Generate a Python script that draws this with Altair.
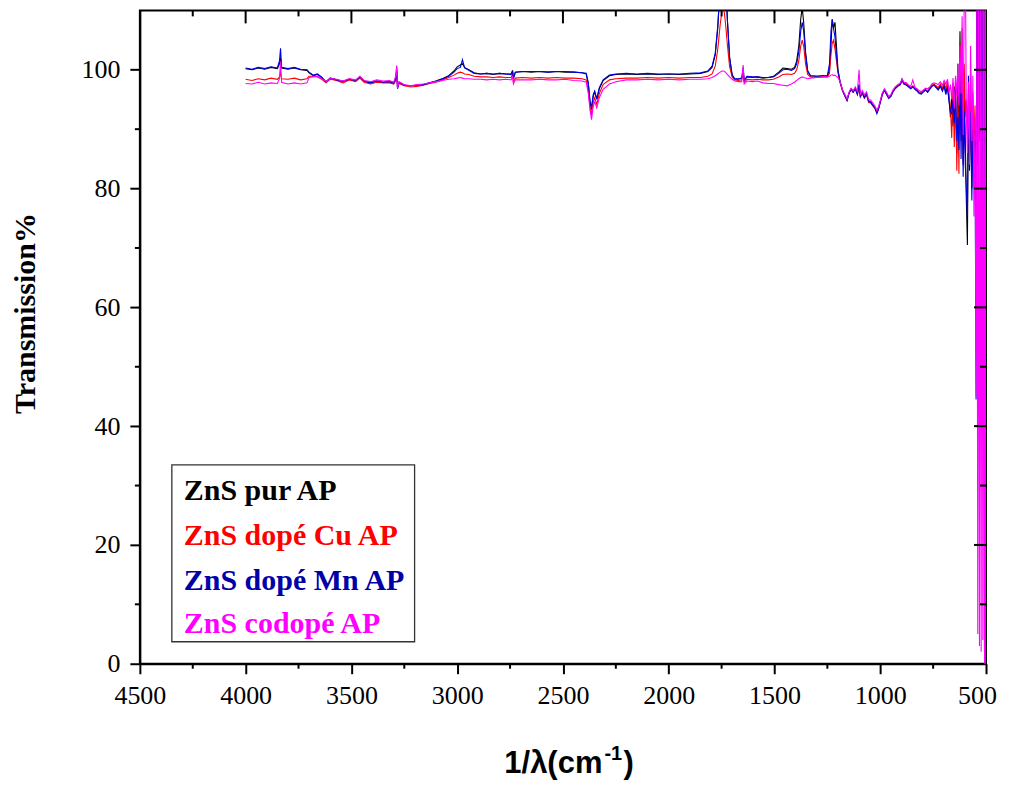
import altair as alt
import pandas as pd

# ---------------- data ----------------
wavenumber = [
    4000, 3970, 3940, 3910, 3880, 3850, 3840, 3835, 3830, 3800,
    3770, 3740, 3710, 3700, 3680, 3660, 3640, 3620, 3600, 3570,
    3540, 3510, 3480, 3460, 3440, 3410, 3380, 3350, 3320, 3300,
    3290, 3286, 3282, 3275, 3250, 3220, 3190, 3160, 3130, 3100,
    3070, 3040, 3015, 3000, 2985, 2975, 2965, 2945, 2920, 2890,
    2860, 2830, 2800, 2770, 2745, 2738, 2734, 2725, 2690, 2650,
    2610, 2570, 2530, 2490, 2450, 2410, 2390, 2380, 2372, 2365,
    2357, 2350, 2340, 2328, 2310, 2280, 2250, 2200, 2150, 2100,
    2050, 2000, 1950, 1900, 1850, 1815, 1795, 1780, 1768, 1757,
    1748, 1740, 1732, 1722, 1712, 1700, 1688, 1670, 1655, 1648,
    1643, 1630, 1605, 1580, 1555, 1530, 1505, 1480, 1460, 1440,
    1420, 1405, 1395, 1385, 1376, 1369, 1362, 1353, 1343, 1330,
    1300, 1270, 1250, 1240, 1233, 1227, 1221, 1214, 1207, 1200,
    1190, 1178, 1166, 1157, 1148, 1138, 1128, 1118, 1108, 1100,
    1094, 1085, 1075, 1065, 1055, 1045, 1035, 1025, 1016, 1008,
    1000, 990, 980, 970, 960, 950, 940, 930, 918, 905,
    897, 888, 876, 866, 856, 846, 836, 826, 816, 806,
    796, 786, 776, 766, 756, 746, 736, 726, 716, 706,
    698, 690, 682, 675, 668, 662, 656, 650, 644, 638,
    633, 628, 623, 618, 613, 608, 603, 598, 593, 588,
    583, 578, 573, 567, 562, 557, 552, 547, 543, 539,
    535, 531, 527, 523, 519, 515, 511, 507, 503, 501,
]

zns_pur = [
    100.2, 100.0, 100.3, 100.1, 100.4, 100.2, 101.0, 102.0, 100.3, 100.1,
    100.3, 100.0, 99.9, 99.5, 99.0, 99.2, 98.7, 97.9, 98.6, 98.3,
    98.0, 98.4, 98.2, 98.8, 98.1, 97.8, 98.1, 97.9, 98.0, 97.7,
    98.3, 100.0, 97.0, 97.8, 97.4, 97.3, 97.4, 97.5, 97.8, 98.1,
    98.5, 99.0, 99.8, 100.5, 100.8, 101.0, 100.4, 100.0, 99.5, 99.3,
    99.4, 99.2, 99.4, 99.3, 99.3, 99.9, 98.6, 99.6, 99.7, 99.6,
    99.7, 99.6, 99.7, 99.6, 99.6, 99.5, 99.3, 97.5, 94.5, 93.3,
    95.5, 96.3, 95.0, 96.8, 98.2, 99.0, 99.2, 99.3, 99.2, 99.3,
    99.2, 99.3, 99.2, 99.3, 99.4, 99.7, 100.4, 102.5, 107.0, 114.0,
    120.0, 121.0, 116.0, 108.0, 102.0, 99.0, 98.4, 98.4, 98.6, 99.6,
    98.2, 98.8, 98.7, 98.8, 98.6, 98.7, 98.9, 99.6, 100.3, 100.2,
    100.1, 100.4, 101.5, 104.0, 108.5, 110.5, 108.0, 103.0, 99.8, 99.0,
    98.9, 99.0, 98.9, 100.0, 104.0, 108.5, 107.0, 108.0, 104.0, 100.0,
    98.0, 96.5, 95.6, 94.9, 96.0, 96.8, 96.3, 96.9, 96.0, 97.5,
    95.6, 96.2, 95.4, 96.0, 94.8, 94.6, 94.1, 93.6, 92.8, 93.5,
    94.6, 96.0, 96.7, 96.0, 95.3, 95.6, 96.4, 96.9, 97.3, 97.6,
    98.4, 97.7, 97.6, 97.3, 97.0, 97.2, 96.9, 96.6, 96.2, 96.0,
    96.4, 96.7, 96.3, 96.9, 97.3, 97.6, 97.1, 96.8, 97.4, 96.6,
    97.5, 96.2, 97.3, 95.0, 92.0, 95.5, 90.5, 97.2, 93.0, 86.0,
    101.0, 89.0, 106.5, 91.0, 102.0, 84.0, 97.0, 88.0, 78.0, 70.5,
    96.0, 83.0, 94.0, 80.0, 92.0, 82.0, 90.0, 60.0, 115.0, 85.0,
    115.0, 90.0, 115.0, 95.0, 115.0, 80.0, 115.0, 0.0, 115.0, 0.0,
]

zns_cu = [
    98.4, 98.2, 98.5, 98.3, 98.6, 98.4, 98.8, 99.6, 98.5, 98.4,
    98.6, 98.3, 98.5, 98.9, 98.9, 98.8, 98.4, 97.8, 98.4, 98.2,
    97.8, 98.3, 98.0, 98.6, 97.9, 97.6, 97.9, 97.8, 97.8, 97.6,
    98.2, 99.8, 97.1, 97.7, 97.3, 97.1, 97.2, 97.4, 97.7, 97.9,
    98.3, 98.7, 99.1, 99.4, 99.6, 99.5, 99.3, 99.2, 98.9, 98.8,
    98.8, 98.7, 98.8, 98.7, 98.7, 99.2, 97.9, 98.6, 98.7, 98.6,
    98.7, 98.6, 98.7, 98.6, 98.6, 98.5, 98.3, 96.5, 93.8, 92.4,
    94.5, 95.3, 94.2, 96.0, 97.5, 98.3, 98.5, 98.6, 98.6, 98.7,
    98.6, 98.7, 98.6, 98.7, 98.7, 98.9, 99.3, 100.6, 103.5, 107.5,
    110.0, 110.5, 108.0, 104.0, 100.5, 98.8, 98.3, 98.2, 98.3, 99.4,
    97.9, 98.4, 98.3, 98.4, 98.3, 98.3, 98.4, 98.8, 99.2, 99.3,
    99.2, 99.4, 100.0, 101.5, 104.0, 105.0, 104.0, 101.0, 99.2, 98.8,
    98.7, 98.8, 98.8, 99.4, 102.5, 104.5, 105.0, 103.5, 101.5, 99.5,
    97.8, 96.4, 95.5, 94.9, 96.0, 96.7, 96.2, 96.8, 95.8, 97.0,
    95.4, 96.0, 95.2, 95.8, 94.5, 94.4, 93.9, 93.5, 92.9, 93.5,
    94.5, 95.8, 96.5, 95.8, 95.2, 95.5, 96.3, 96.8, 97.2, 97.5,
    98.2, 97.6, 97.5, 97.2, 96.9, 97.3, 96.8, 96.5, 96.2, 96.0,
    96.3, 96.6, 96.4, 96.8, 97.4, 97.5, 97.3, 97.0, 97.6, 96.9,
    97.8, 96.8, 98.0, 96.0, 93.5, 88.5, 97.8, 87.0, 98.5, 83.0,
    96.0, 82.5, 104.5, 88.0, 107.0, 84.5, 101.0, 92.0, 95.0, 90.0,
    94.0, 86.0, 100.0, 84.0, 96.0, 88.0, 94.0, 70.0, 115.0, 88.0,
    115.0, 92.0, 115.0, 60.0, 115.0, 47.8, 115.0, 60.0, 115.0, 0.0,
]

zns_mn = [
    100.3, 100.1, 100.4, 100.2, 100.5, 100.3, 101.5, 103.6, 100.4, 100.2,
    100.4, 100.1, 100.0, 99.6, 99.1, 99.3, 98.7, 98.0, 98.6, 98.3,
    98.1, 98.4, 98.2, 98.8, 98.1, 97.8, 98.1, 97.9, 98.0, 97.8,
    98.5, 100.5, 96.8, 97.9, 97.4, 97.3, 97.4, 97.5, 97.8, 98.1,
    98.5, 98.9, 99.6, 100.2, 100.4, 101.7, 100.3, 99.9, 99.4, 99.3,
    99.4, 99.3, 99.4, 99.3, 99.2, 99.8, 98.5, 99.6, 99.7, 99.7,
    99.7, 99.6, 99.7, 99.7, 99.6, 99.5, 99.4, 97.8, 94.8, 93.6,
    95.8, 96.4, 95.1, 97.0, 98.3, 99.1, 99.3, 99.4, 99.3, 99.4,
    99.3, 99.3, 99.3, 99.4, 99.5, 99.8, 100.6, 102.8, 107.5, 114.0,
    119.0, 120.0, 115.0, 108.0, 102.0, 99.2, 98.5, 98.5, 98.6, 100.4,
    98.2, 98.9, 98.8, 98.8, 98.7, 98.7, 98.8, 99.4, 100.0, 100.1,
    99.9, 100.2, 101.0, 103.0, 106.5, 108.0, 106.5, 102.5, 99.8, 99.0,
    98.9, 99.0, 99.0, 101.0, 106.5, 108.5, 107.0, 105.5, 102.5, 99.8,
    98.0, 96.5, 95.5, 94.8, 96.0, 96.7, 96.2, 96.8, 95.9, 97.5,
    95.5, 96.1, 95.3, 95.9, 94.7, 94.5, 94.0, 93.5, 92.6, 93.4,
    94.5, 95.9, 96.6, 95.9, 95.2, 95.5, 96.3, 96.8, 97.2, 97.5,
    98.3, 97.6, 97.4, 97.1, 96.8, 97.1, 96.7, 96.4, 96.0, 95.9,
    96.3, 96.6, 96.2, 96.7, 97.2, 97.4, 97.0, 96.6, 97.2, 96.4,
    97.2, 95.8, 97.0, 94.8, 93.0, 92.5, 94.8, 91.0, 96.5, 88.0,
    92.0, 86.5, 99.0, 85.0, 96.0, 82.0, 93.0, 84.0, 80.0, 75.5,
    99.0, 87.0, 93.0, 78.0, 90.0, 80.0, 88.0, 44.5, 115.0, 84.0,
    115.0, 88.0, 115.0, 92.0, 115.0, 78.0, 115.0, 0.0, 115.0, 0.0,
]

zns_codope = [
    97.7, 97.6, 97.9, 97.6, 97.8, 97.7, 98.5, 101.4, 97.9, 97.6,
    97.8, 97.6, 97.8, 98.7, 98.8, 98.9, 98.5, 98.0, 98.5, 98.4,
    98.1, 98.5, 98.3, 98.9, 98.2, 98.0, 98.3, 98.1, 98.2, 97.9,
    99.0, 100.7, 96.9, 98.0, 97.5, 97.3, 97.5, 97.6, 97.8, 98.0,
    98.2, 98.4, 98.5, 98.6, 98.7, 98.6, 98.5, 98.5, 98.4, 98.4,
    98.3, 98.4, 98.3, 98.4, 98.3, 98.9, 97.6, 98.3, 98.3, 98.3,
    98.4, 98.3, 98.3, 98.4, 98.2, 98.1, 97.9, 96.0, 93.2, 91.6,
    93.8, 94.6, 93.6, 95.3, 96.7, 97.6, 98.0, 98.3, 98.3, 98.4,
    98.3, 98.4, 98.3, 98.4, 98.4, 98.5, 98.7, 99.0, 99.3, 99.6,
    99.8, 99.8, 99.6, 99.2, 98.8, 98.4, 98.1, 98.0, 98.0, 100.8,
    97.6, 98.1, 98.0, 98.1, 97.8, 97.7, 97.7, 97.5, 97.4, 97.3,
    97.6, 97.9, 98.2, 98.5, 98.7, 98.8, 98.7, 98.6, 98.5, 98.6,
    98.7, 98.8, 98.8, 98.9, 99.1, 99.2, 99.0, 99.1, 98.9, 98.7,
    98.0, 96.6, 95.8, 95.1, 96.2, 96.9, 96.5, 97.1, 96.4, 100.0,
    95.8, 96.5, 95.8, 96.3, 95.0, 94.9, 94.4, 93.9, 93.2, 93.8,
    94.8, 96.1, 96.8, 96.2, 95.5, 95.8, 96.6, 97.1, 97.5, 97.8,
    98.5, 97.9, 97.8, 97.4, 97.2, 98.3, 97.0, 96.8, 96.5, 96.3,
    96.6, 96.9, 96.8, 97.1, 97.6, 97.8, 97.7, 97.5, 98.0, 97.4,
    98.2, 97.6, 98.4, 96.2, 97.5, 95.0, 98.6, 93.5, 99.0, 95.5,
    101.0, 94.0, 104.0, 96.0, 109.0, 89.0, 112.0, 120.0, 92.0, 86.0,
    98.0, 84.0, 104.0, 88.0, 99.0, 75.3, 92.0, 45.0, 115.0, 5.0,
    115.0, 3.0, 115.0, 2.0, 115.0, 4.0, 115.0, 0.0, 115.0, 0.0,
]

series_names = ["ZnS pur AP", "ZnS dopé Cu AP", "ZnS dopé Mn AP", "ZnS codopé AP"]
series_values = [zns_pur, zns_cu, zns_mn, zns_codope]
line_colors = ["#000000", "#FF0000", "#0000E6", "#FF00FF"]
legend_colors = ["#000000", "#FF0000", "#0000A8", "#FF00FF"]

x_major = [4500, 4000, 3500, 3000, 2500, 2000, 1500, 1000, 500]
x_minor = [4250, 3750, 3250, 2750, 2250, 1750, 1250, 750]
y_major = [0, 20, 40, 60, 80, 100]
y_minor = [10, 30, 50, 70, 90]

# ---------------- layout ----------------
W, H = 847, 654
SERIF = "'Liberation Serif', 'Times New Roman', Times, serif"
SANS = "'Liberation Sans', Arial, Helvetica, sans-serif"

x_scale = alt.Scale(domain=[500, 4500], reverse=True, nice=False, zero=False)
y_scale = alt.Scale(domain=[0, 110], nice=False, zero=False)

x_axis = alt.Axis(values=x_major, tickSize=10, labelPadding=9, format="d",
                  title=None, grid=False, labelFlush=False, labelOverlap=False,
                  labelFont=SERIF, labelFontSize=26, labelColor="black",
                  labelOffset={"condition": {"test": "datum.value == 500", "value": -9},
                               "value": 0})
y_axis = alt.Axis(values=y_major, tickSize=10, labelPadding=10, format="d",
                  grid=False, labelFlush=False, labelOverlap=False,
                  labelFont=SERIF, labelFontSize=26, labelColor="black",
                  title="Transmission%", titleFont=SERIF, titleFontSize=30,
                  titleFontWeight="bold", titleColor="black",
                  titleAngle=270, titleX=-105, titleY=303,
                  titleAlign="center", titleBaseline="alphabetic")

layers = []
for name, vals, col in zip(series_names, series_values, line_colors):
    df = pd.DataFrame({"wn": wavenumber, "T": vals})
    layers.append(
        alt.Chart(df).mark_line(clip=True, strokeWidth=1.1, color=col).encode(
            x=alt.X("wn:Q", scale=x_scale, axis=x_axis),
            y=alt.Y("T:Q", scale=y_scale, axis=y_axis),
        )
    )

tick_style = dict(color="black", strokeWidth=2)

# bottom minor ticks (outward)
layers.append(alt.Chart(pd.DataFrame({"wn": x_minor})).mark_rule(**tick_style).encode(
    x=alt.X("wn:Q"), y=alt.value(H), y2=alt.value(H + 5)))
# left minor ticks (outward)
layers.append(alt.Chart(pd.DataFrame({"T": y_minor})).mark_rule(**tick_style).encode(
    y=alt.Y("T:Q"), x=alt.value(-5), x2=alt.value(0)))
# top ticks (inward)
layers.append(alt.Chart(pd.DataFrame({"wn": x_major[1:-1]})).mark_rule(**tick_style).encode(
    x=alt.X("wn:Q"), y=alt.value(0), y2=alt.value(13)))
layers.append(alt.Chart(pd.DataFrame({"wn": x_minor})).mark_rule(**tick_style).encode(
    x=alt.X("wn:Q"), y=alt.value(0), y2=alt.value(6)))
# right ticks (inward)
layers.append(alt.Chart(pd.DataFrame({"T": y_major[1:]})).mark_rule(**tick_style).encode(
    y=alt.Y("T:Q"), x=alt.value(W - 12), x2=alt.value(W)))
layers.append(alt.Chart(pd.DataFrame({"T": y_minor})).mark_rule(**tick_style).encode(
    y=alt.Y("T:Q"), x=alt.value(W - 6), x2=alt.value(W)))

# legend box
one = pd.DataFrame({"k": [0]})
layers.append(alt.Chart(one).mark_rect(fill="white", stroke="#333333", strokeWidth=1.3).encode(
    x=alt.value(32), x2=alt.value(275), y=alt.value(455), y2=alt.value(632)))
legend_baselines = [490, 535, 580, 623]
for name, col, yb in zip(series_names, legend_colors, legend_baselines):
    layers.append(alt.Chart(one).mark_text(
        text=name, align="left", baseline="alphabetic", font=SERIF,
        fontWeight="bold", fontSize=30, color=col).encode(
        x=alt.value(44), y=alt.value(yb)))

# x-axis title with superscript
title_style = dict(font=SANS, fontWeight="bold", color="black", baseline="alphabetic")
layers.append(alt.Chart(one).mark_text(text="1/λ(cm", align="right", fontSize=31, **title_style)
              .encode(x=alt.value(463), y=alt.value(763)))
layers.append(alt.Chart(one).mark_text(text="-1", align="left", fontSize=20, **title_style)
              .encode(x=alt.value(465), y=alt.value(750)))
layers.append(alt.Chart(one).mark_text(text=")", align="left", fontSize=31, **title_style)
              .encode(x=alt.value(484), y=alt.value(763)))

chart = alt.layer(*layers).properties(
    width=W, height=H,
    padding={"left": 132, "top": 2, "right": 16, "bottom": 117},
    autosize=alt.AutoSizeParams(type="none"),
    background="white",
).configure_view(
    stroke="black", strokeWidth=2
).configure_axis(
    domainColor="black", domainWidth=2, tickColor="black", tickWidth=2,
    labelFont=SERIF, labelFontSize=26, labelColor="black",
)

chart.save("out.html", embed_options={"renderer": "svg", "actions": False})
